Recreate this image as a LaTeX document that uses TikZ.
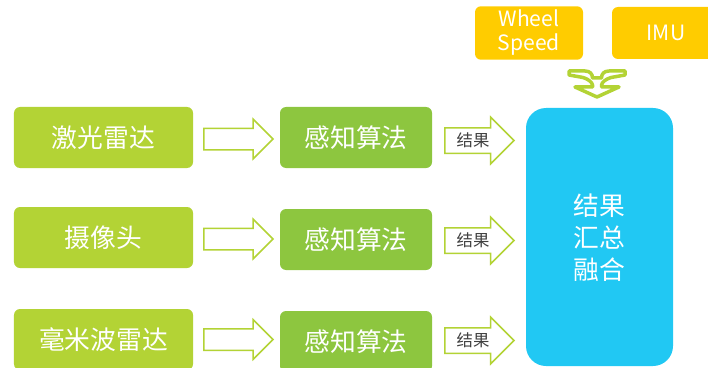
\documentclass[tikz,border=0pt]{standalone}
\usepackage{fontspec}
\setmainfont{Noto Sans CJK SC}
\usetikzlibrary{shapes.arrows,calc}

\definecolor{limegreen}{HTML}{B3D335}
\definecolor{leafgreen}{HTML}{8DC63F}
\definecolor{skyblue}{HTML}{21C8F3}
\definecolor{sunyellow}{HTML}{FFCC00}
\definecolor{labelgray}{HTML}{404040}

\begin{document}
\begin{tikzpicture}[x=0.3mm, y=-0.3mm,
  every node/.style={font=\fontsize{22}{26}\selectfont, text=white},
  sensor/.style={fill=limegreen, rounded corners=1.8mm, minimum width=53.7mm, minimum height=18.3mm},
  algo/.style={fill=leafgreen, rounded corners=1.8mm, minimum width=45.6mm, minimum height=18.3mm},
  extra/.style={fill=sunyellow, rounded corners=1.8mm, minimum width=32.4mm, minimum height=15.6mm,
    align=center, font=\fontsize{18}{20.5}\selectfont},
  bigarrow/.style={single arrow, draw=limegreen, line width=0.45mm, fill=white, minimum height=20.7mm,
    single arrow head extend=2.7mm, inner sep=0pt, text height=3mm, text depth=3mm, anchor=tail},
  resarrow/.style={single arrow, draw=limegreen, line width=0.45mm, fill=white, minimum height=20.7mm,
    single arrow head extend=3.15mm, inner xsep=1mm, inner ysep=0pt, text height=5.5mm, text depth=1.7mm,
    text=labelgray, font=\fontsize{14}{16}\selectfont, anchor=tail}]
  \useasboundingbox (0,0) rectangle (708,367);

  % sensors
  \node[sensor] (lidar) at (103.5,137.5) {激光雷达};
  \node[sensor] (camera) at (103.5,237.5) {摄像头};
  \node[sensor] (radar) at (103.5,339.5) {毫米波雷达};

  % perception
  \node[algo] (p1) at (356,137.5) {感知算法};
  \node[algo] (p2) at (356,239.5) {感知算法};
  \node[algo] (p3) at (356,341.5) {感知算法};

  % fusion
  \node[fill=skyblue, rounded corners=6mm, minimum width=44.1mm, minimum height=77.4mm,
    align=center, font=\fontsize{22}{27.3}\selectfont] (fusion) at (599.5,237) {\\[-2.5mm]结果\\汇总\\融合};
  \node[extra] (wheel) at (529,33) {Wheel\\Speed};
  \node[extra] (imu) at (666,33) {IMU};

  \node[bigarrow] (a1) at ($(lidar.east)+(10,1.5)$) {};
  \node[bigarrow] (a2) at ($(camera.east)+(10,1.5)$) {};
  \node[bigarrow] (a3) at ($(radar.east)+(10,0)$) {};
  \node[resarrow] (r1) at ($(p1.east)+(12,3)$) {结果};
  \node[resarrow] (r2) at ($(p2.east)+(12,1)$) {结果};
  \node[resarrow] (r3) at ($(p3.east)+(12,-1)$) {结果};

  % merge symbol
  \coordinate (merge) at (597,84);
  \draw[limegreen, fill=white, line width=1.05mm, line join=round, shift={(merge)}]
    (-28,-13) -- (-12,-13) .. controls (-7,-13) and (-4.5,-10) .. (-4.5,-6) -- (4.5,-6)
    .. controls (4.5,-10) and (7,-13) .. (12,-13) -- (28,-13) -- (28,-9) -- (14,-6.5)
    .. controls (9,-5) and (5,-2) .. (4.5,1) -- (4.5,3) -- (22,3) -- (0,13) -- (-22,3)
    -- (-4.5,3) -- (-4.5,1) .. controls (-5,-2) and (-9,-5) .. (-14,-6.5) -- (-28,-9) -- cycle;
\end{tikzpicture}
\end{document}
